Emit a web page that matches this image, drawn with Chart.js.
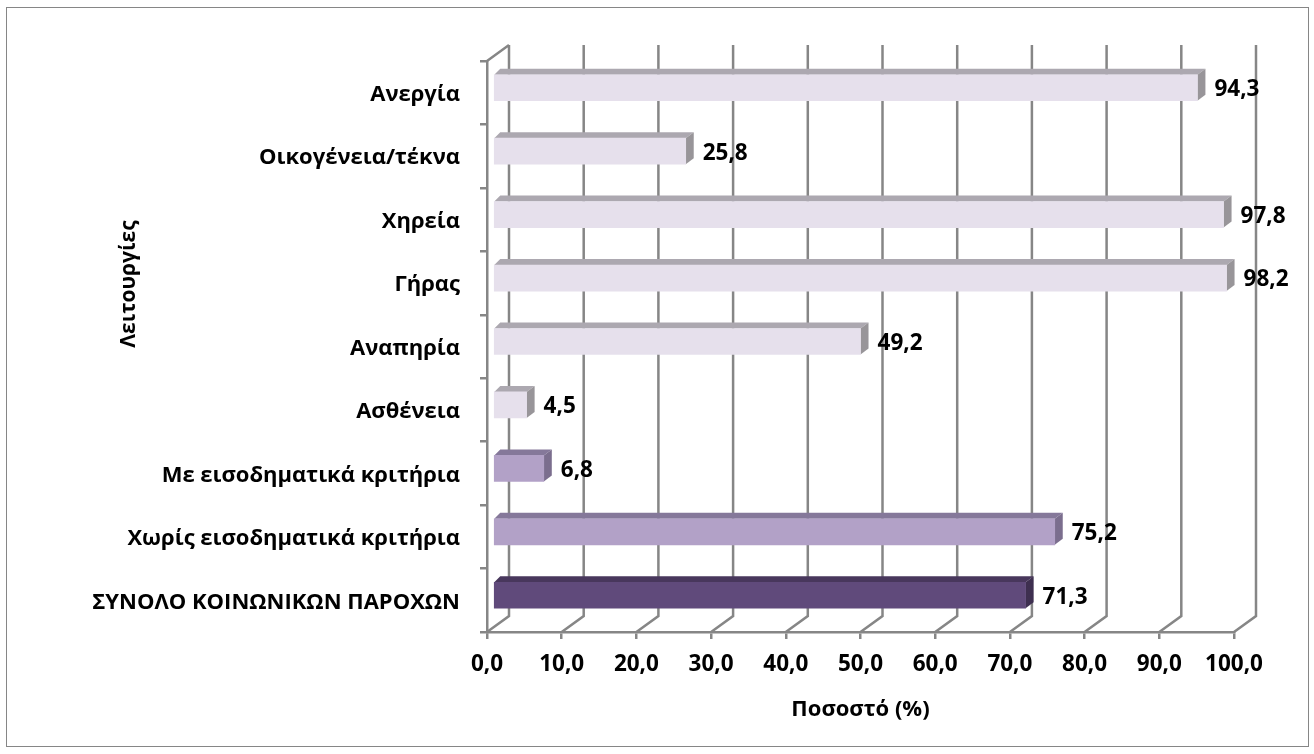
<!DOCTYPE html>
<html lang="el">
<head>
<meta charset="utf-8">
<title>Κοινωνικές παροχές</title>
<script src="https://cdn.jsdelivr.net/npm/chart.js@4"></script>
<style>
    html, body { margin: 0; background: #fff; }
    canvas { display: block; }
</style>
</head>
<body>
<canvas id="chart" width="1314" height="754"></canvas>
<script>
// values, top row first
const categories = [
    'Ανεργία',
    'Οικογένεια/τέκνα',
    'Χηρεία',
    'Γήρας',
    'Αναπηρία',
    'Ασθένεια',
    'Με εισοδηματικά κριτήρια',
    'Χωρίς εισοδηματικά κριτήρια',
    'ΣΥΝΟΛΟ ΚΟΙΝΩΝΙΚΩΝ ΠΑΡΟΧΩΝ'
];
const percentages = [94.3, 25.8, 97.8, 98.2, 49.2, 4.5, 6.8, 75.2, 71.3];

const light = { front: '#e6e0ec', top: '#aca8b0', side: '#989599' };
const mid = { front: '#b2a1c7', top: '#85789a', side: '#7b6e8e' };
const dark = { front: '#604a7b', top: '#48375c', side: '#3e2f50' };
const barColors = [light, light, light, light, light, light, mid, mid, dark];

const lineColor = '#868686';
const lineWidth = 2.5;
const fontFamily = '"Open Sans", sans-serif';
const categoryFont = { family: fontFamily, size: 22, weight: 'bold' };
const numberFont = { family: fontFamily, size: 22.5, weight: 'bold' };

const wallX = 22, wallY = 16;   // depth of the back wall
const barShiftX = 6, barShiftY = 5;   // bars sit inside the box
const barDepthX = 8, barDepthY = 6;

function formatValue(v) {
    return v.toFixed(1).replace('.', ',');
}

// border, back wall and floor lines
const wallsPlugin = {
    id: 'walls',
    beforeDatasetsDraw(chart) {
        const { ctx, chartArea, scales } = chart;
        ctx.save();
        ctx.strokeStyle = lineColor;
        ctx.lineWidth = lineWidth;
        ctx.beginPath();
        scales.x.ticks.forEach(t => {
            const x = scales.x.getPixelForValue(t.value);
            ctx.moveTo(x, chartArea.bottom);
            ctx.lineTo(x + wallX, chartArea.bottom - wallY);
            ctx.lineTo(x + wallX, chartArea.top - wallY);
        });
        ctx.moveTo(chartArea.left, chartArea.top);
        ctx.lineTo(chartArea.left + wallX, chartArea.top - wallY);
        ctx.stroke();
        ctx.restore();
    },
    beforeDraw(chart) {
        const { ctx } = chart;
        ctx.save();
        ctx.strokeStyle = lineColor;
        ctx.lineWidth = 1;
        ctx.strokeRect(6.5, 7.5, 1302, 739);
        ctx.restore();
    }
};

// top and side faces, then the library's bar moved into the box
const bars3dPlugin = {
    id: 'bars3d',
    beforeDatasetDraw(chart, args) {
        const { ctx } = chart;
        const bars = chart.getDatasetMeta(args.index).data;
        ctx.save();
        ctx.translate(barShiftX, -barShiftY);
        bars.forEach((bar, i) => {
            const top = bar.y - bar.height / 2;
            const bottom = bar.y + bar.height / 2;
            ctx.fillStyle = barColors[i].top;
            ctx.beginPath();
            ctx.moveTo(bar.base, top);
            ctx.lineTo(bar.base + barDepthX - 2, top - barDepthY);
            ctx.lineTo(bar.x + barDepthX, top - barDepthY);
            ctx.lineTo(bar.x, top);
            ctx.closePath();
            ctx.fill();
            ctx.fillStyle = barColors[i].side;
            ctx.beginPath();
            ctx.moveTo(bar.x, top);
            ctx.lineTo(bar.x + barDepthX, top - barDepthY);
            ctx.lineTo(bar.x + barDepthX, bottom - barDepthY);
            ctx.lineTo(bar.x, bottom);
            ctx.closePath();
            ctx.fill();
        });
    },
    afterDatasetDraw(chart) {
        chart.ctx.restore();
    }
};

// value labels and the axis title that is not centred on the axis
const labelsPlugin = {
    id: 'labels',
    afterDatasetsDraw(chart) {
        const { ctx } = chart;
        const bars = chart.getDatasetMeta(0).data;
        ctx.save();
        ctx.fillStyle = '#000';
        ctx.font = `bold ${numberFont.size}px ${fontFamily}`;
        ctx.textAlign = 'left';
        ctx.textBaseline = 'middle';
        bars.forEach((bar, i) => {
            ctx.fillText(formatValue(percentages[i]), bar.x + barShiftX + barDepthX + 9, bar.y - 3);
        });
        ctx.translate(129, 284);
        ctx.rotate(-Math.PI / 2);
        ctx.textAlign = 'center';
        ctx.font = `bold 21px ${fontFamily}`;
        ctx.fillText('Λειτουργίες', 0, 0);
        ctx.restore();
    }
};

new Chart(document.getElementById('chart').getContext('2d'), {
    type: 'bar',
    data: {
        labels: categories,
        datasets: [{
            label: 'Ποσοστό (%)',
            data: percentages,
            backgroundColor: barColors.map(c => c.front),
            barThickness: 26,
            clip: false
        }]
    },
    options: {
        indexAxis: 'y',
        responsive: false,
        animation: false,
        layout: { padding: { top: 61, right: 80 } },
        plugins: {
            legend: { display: false },
            tooltip: { enabled: false }
        },
        scales: {
            x: {
                min: 0,
                max: 100,
                afterFit(scale) { scale.height = 122; },
                border: { color: lineColor, width: lineWidth },
                grid: { drawOnChartArea: false, color: lineColor, lineWidth: lineWidth, tickLength: 7 },
                ticks: {
                    stepSize: 10,
                    color: '#000',
                    font: numberFont,
                    padding: 12,
                    maxRotation: 0,
                    callback: v => formatValue(v)
                },
                title: {
                    display: true,
                    text: 'Ποσοστό (%)',
                    color: '#000',
                    font: { family: fontFamily, size: 22, weight: 'bold' },
                    padding: { top: 14, bottom: 31 }
                }
            },
            y: {
                afterFit(scale) { scale.width = 487; },
                border: { color: lineColor, width: lineWidth },
                grid: { drawOnChartArea: false, color: lineColor, lineWidth: lineWidth, tickLength: 7 },
                ticks: {
                    color: '#000',
                    font: categoryFont,
                    padding: 20,
                    labelOffset: 2,
                    autoSkip: false
                }
            }
        }
    },
    plugins: [wallsPlugin, bars3dPlugin, labelsPlugin]
});
</script>
</body>
</html>
